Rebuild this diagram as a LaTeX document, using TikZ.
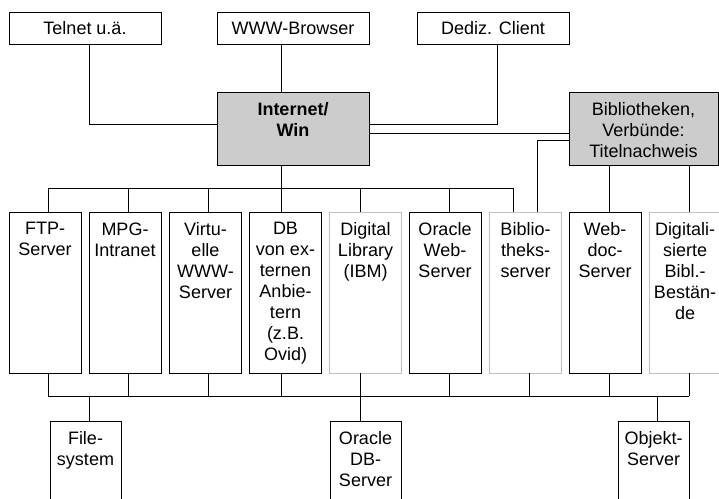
\documentclass[tikz,border=0pt]{standalone}
\usepackage{fontspec}
\setmainfont{Liberation Sans}
\newcommand\diafont{\fontsize{18}{21}\selectfont}
\definecolor{hubgray}{HTML}{CCCCCC}
\definecolor{lightline}{HTML}{C0C0C0}
\begin{document}
\begin{tikzpicture}[x=1pt,y=-1pt,line width=1pt,
  frame/.style={draw=black,rectangle,inner sep=0pt,outer sep=0pt},
  topbox/.style={frame,minimum width=152pt,minimum height=32pt,font=\diafont},
  hub/.style={frame,fill=hubgray,minimum width=152pt,minimum height=73pt},
  srv/.style={frame,minimum width=72pt,minimum height=161pt},
  lightsrv/.style={srv,draw=lightline},
  store/.style={frame,minimum width=71pt,minimum height=140pt},
  lbl/.style={anchor=north,align=center,inner sep=0pt,font=\diafont},
  wire/.style={draw=black,line width=1pt}]
\clip (0,0) rectangle (719,498);
\useasboundingbox (0,0) rectangle (719,498);
% top row
\node[topbox] (telnet) at (85,28) {Telnet u.ä.};
\node[topbox] (www) at (293,28) {WWW-Browser};
\node[topbox] (dediz) at (493,28) {Dediz. Client};
% hubs
\node[hub] (inet) at (293,128.5) {};
\node[lbl,font=\diafont\bfseries] (inetl) at ([yshift=-10pt]inet.north) {Internet/\\Win};
\node[hub,minimum width=149pt] (bib) at (643.5,128.5) {};
\node[lbl] (bibl) at ([yshift=-10pt]bib.north) {Bibliotheken,\\Verbünde:\\Titelnachweis};
% servers
\node[srv] (s1) at (45,292.5) {};
\node[srv] (s2) at (125,292.5) {};
\node[srv] (s3) at (205.5,292.5) {};
\node[srv] (s4) at (285.5,292.5) {};
\node[lightsrv] (s5) at (365.5,292.5) {};
\node[srv] (s6) at (445,292.5) {};
\node[lightsrv] (s7) at (525.5,292.5) {};
\node[srv] (s8) at (605,292.5) {};
\node[lightsrv] (s9) at (685,292.5) {};
\node[lbl] (l1) at ([yshift=-10pt]s1.north) {FTP-\\Server};
\node[lbl] (l2) at ([yshift=-10pt]s2.north) {MPG-\\Intranet};
\node[lbl] (l3) at ([yshift=-10pt]s3.north) {Virtu-\\elle\\WWW-\\Server};
\node[lbl] (l4) at ([yshift=-10pt]s4.north) {DB\\von ex-\\ternen\\Anbie-\\tern\\(z.B.\\Ovid)};
\node[lbl] (l5) at ([yshift=-10pt]s5.north) {Digital\\Library\\(IBM)};
\node[lbl] (l6) at ([yshift=-10pt]s6.north) {Oracle\\Web-\\Server};
\node[lbl] (l7) at ([yshift=-10pt]s7.north) {Biblio-\\theks-\\server};
\node[lbl] (l8) at ([yshift=-10pt]s8.north) {Web-\\doc-\\Server};
\node[lbl] (l9) at ([yshift=-10pt]s9.north) {Digitali-\\sierte\\Bibl.-\\Bestän-\\de};
% storage
\node[store] (f1) at (85.5,491) {};
\node[store] (f2) at (365.5,491) {};
\node[store] (f3) at (653.5,491) {};
\node[lbl] (fl1) at ([yshift=-10pt]f1.north) {File-\\system};
\node[lbl] (fl2) at ([yshift=-10pt]f2.north) {Oracle\\DB-\\Server};
\node[lbl] (fl3) at ([yshift=-10pt]f3.north) {Objekt-\\Server};
% connectors top
\path (telnet.south) ++(4,0) coordinate (tel-d);
\path (inet.west) ++(0,-4.5) coordinate (inet-l);
\draw[wire] (tel-d) |- (inet-l);
\path (www.south) ++(-12,0) coordinate (www-d);
\draw[wire] (www-d) -- (www-d |- inet.north);
\path (dediz.south) ++(4,0) coordinate (ded-d);
\path (inet.east) ++(0,-4.5) coordinate (inet-r);
\draw[wire] (ded-d) |- (inet-r);
\path (inet.east) ++(0,4.5) coordinate (inet-r2);
\draw[wire] (inet-r2) -- (inet-r2 -| bib.west);
% bus coordinates
\coordinate (tb) at (0,188);
\coordinate (bb) at (0,396);
\foreach \n/\d in {s1/3,s2/3,s3/3,s4/-4,s5/-5,s6/4,s7/-12}{
  \path (\n.north) ++(\d,0) coordinate (\n-t);
  \draw[wire] (\n-t) -- (\n-t |- tb);
}
\draw[wire] (inet.south -| s4-t) -- (s4-t |- tb);
\draw[wire] (s1-t |- tb) -- (s7-t |- tb);
% library hub to servers
\path (bib.west) ++(0,11.5) coordinate (bib-l);
\path (s7.north) ++(12,0) coordinate (s7-u);
\draw[wire] (s7-u) |- (bib-l);
\path (s8.north) ++(4,0) coordinate (s8-t);
\draw[wire] (s8-t) -- (s8-t |- bib.south);
\path (s9.north) ++(4,0) coordinate (s9-t);
\draw[wire] (s9-t) -- (s9-t |- bib.south);
% bottom bus
\foreach \n/\d in {s1/3,s2/3,s3/3,s4/-4,s5/-5,s6/4,s7/4,s8/4,s9/4}{
  \path (\n.south) ++(\d,0) coordinate (\n-b);
  \draw[wire] (\n-b) -- (\n-b |- bb);
}
\draw[wire] (s1-b |- bb) -- (s9-b |- bb);
\foreach \n/\d in {f1/3.5,f2/-5.5,f3/3.5}{
  \path (\n.north) ++(\d,0) coordinate (\n-t);
  \draw[wire] (\n-t) -- (\n-t |- bb);
}
\end{tikzpicture}
\end{document}
